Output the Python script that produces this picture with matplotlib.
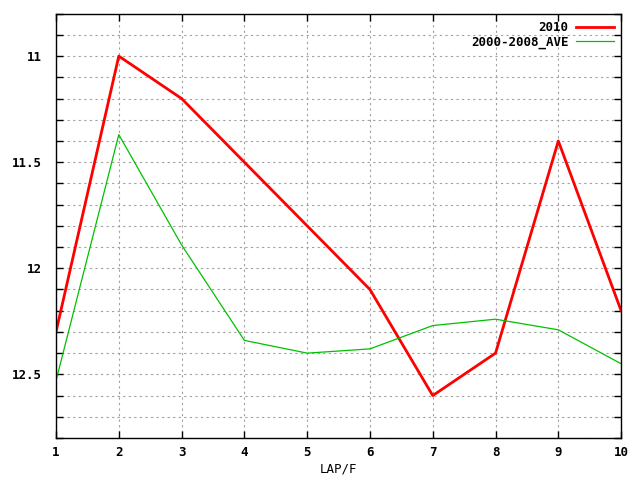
import numpy as np
import matplotlib
matplotlib.use('Agg')
import matplotlib.pyplot as plt
from matplotlib.ticker import MultipleLocator

# Lap numbers and lap times
laps = [1, 2, 3, 4, 5, 6, 7, 8, 9, 10]
y_2010 = [12.30, 11.00, 11.20, 11.50, 11.80, 12.10, 12.60, 12.40, 11.40, 12.20]
y_ave = [12.53, 11.37, 11.89, 12.34, 12.40, 12.38, 12.27, 12.24, 12.29, 12.45]

plt.rcParams['font.family'] = 'DejaVu Sans Mono'
plt.rcParams['font.weight'] = 'bold'
plt.rcParams['font.size'] = 9

fig = plt.figure(figsize=(6.4, 4.8), dpi=100)
ax = fig.add_axes([0.0875, 0.0875, 0.883, 0.884])

ax.plot(laps, y_2010, color='#ff0000', linewidth=2, label='2010')
ax.plot(laps, y_ave, color='#00c000', linewidth=0.9, label='2000-2008_AVE')

ax.set_xlim(1, 10)
ax.set_ylim(12.8, 10.8)
ax.xaxis.set_major_locator(MultipleLocator(1))
ax.yaxis.set_major_locator(MultipleLocator(0.5))
ax.yaxis.set_minor_locator(MultipleLocator(0.1))
ax.yaxis.set_major_formatter(plt.FuncFormatter(lambda v, p: '%g' % v))

ax.grid(True, which='both', color='#a0a0a0', linestyle=(0, (2, 3)), linewidth=0.8)
ax.tick_params(which='both', direction='in', top=True, right=True, length=5, width=1)
ax.tick_params(axis='x', pad=6)
ax.tick_params(axis='y', pad=10)
for s in ax.spines.values():
    s.set_linewidth(1)

ax.set_xlabel('LAP/F', labelpad=2)

leg = ax.legend(loc='upper right', frameon=False, markerfirst=False,
                handlelength=3.0, borderaxespad=0.3, borderpad=0.3,
                labelspacing=0.1, handletextpad=0.6)
for t in leg.get_texts():
    t.set_ha('right')

fig.savefig('out.png', dpi=100)
